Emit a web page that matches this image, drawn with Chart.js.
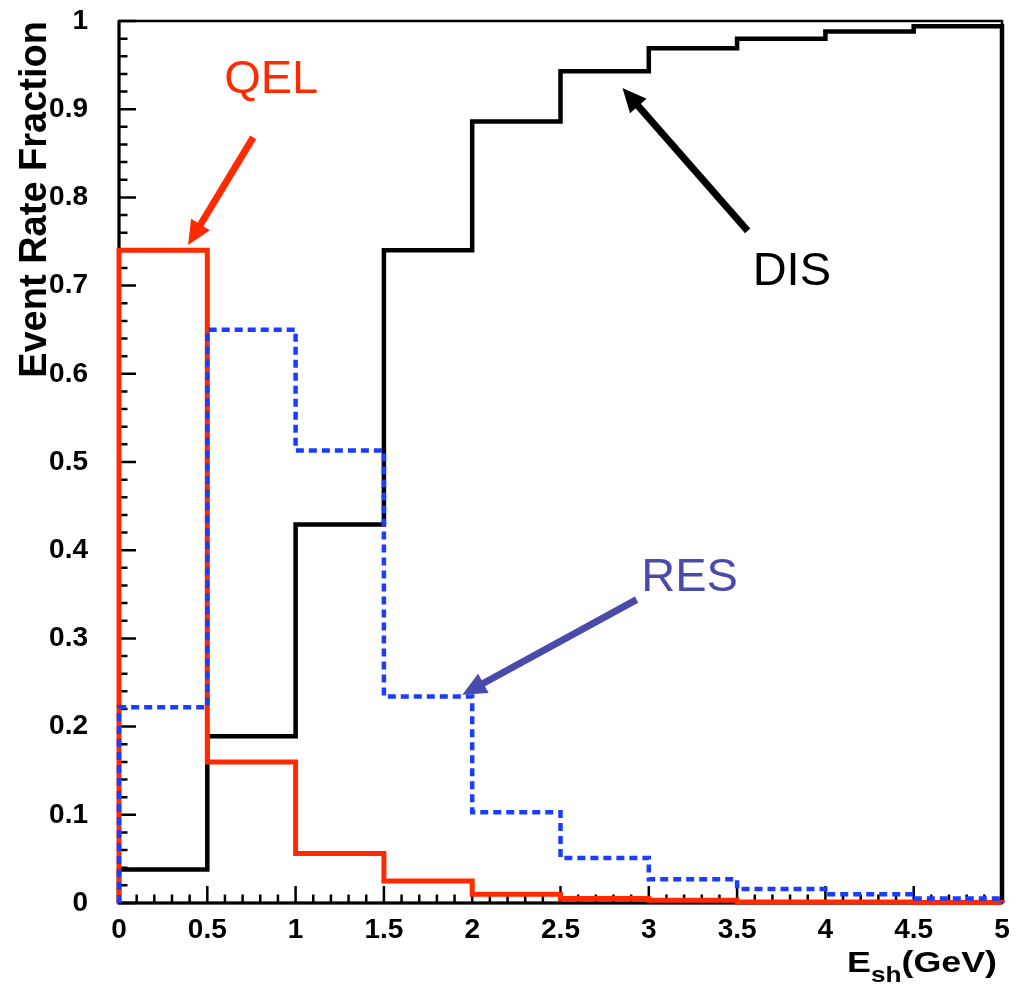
<!DOCTYPE html>
<html>
<head>
<meta charset="utf-8">
<script src="https://cdn.jsdelivr.net/npm/chart.js@4.4.1/dist/chart.umd.min.js"></script>
<style>
  html, body { margin: 0; padding: 0; background: #fff; }
  #wrap { width: 1019px; height: 986px; position: relative; }
</style>
</head>
<body>
<div id="wrap"><canvas id="chartFracciones"></canvas></div>
<script>
// bordes de los bins en E_sh (GeV)
const binEdges = [0, 0.5, 1, 1.5, 2, 2.5, 3, 3.5, 4, 4.5, 5];
// fracciones por bin
const disFrac = [0.038, 0.189, 0.429, 0.740, 0.886, 0.943, 0.969, 0.980, 0.988, 0.994];
const qelFrac = [0.740, 0.160, 0.056, 0.025, 0.010, 0.005, 0.003, 0.001, 0.001, 0.0005];
const resFrac = [0.222, 0.650, 0.513, 0.234, 0.103, 0.051, 0.027, 0.016, 0.010, 0.005];
const xTickValues = [0, 0.5, 1, 1.5, 2, 2.5, 3, 3.5, 4, 4.5, 5];
const yTickValues = [0, 0.1, 0.2, 0.3, 0.4, 0.5, 0.6, 0.7, 0.8, 0.9, 1];

const FONT = "'Liberation Sans', Arial, Helvetica, sans-serif";
const ROJO = '#ff2a00';
const AZUL = '#1a3dff';
const AZUL_FLECHA = '#4a4aaa';

// flechas y etiquetas (en unidades de datos)
const anotaciones = [
  { texto: 'QEL', color: ROJO, label: [0.862, 0.933], tail: [0.76, 0.868], tip: [0.391, 0.746] },
  { texto: 'DIS', color: '#000', label: [3.81, 0.715], tail: [3.56, 0.762], tip: [2.851, 0.924] },
  { texto: 'RES', color: AZUL_FLECHA, label: [3.231, 0.368], tail: [2.931, 0.344], tip: [1.944, 0.236] }
];

// histograma como escalones (stepped 'before': horizontal y luego vertical)
const histo = (vals) => {
  const pts = [{ x: binEdges[0], y: 0 }, { x: binEdges[0], y: vals[0] }];
  for (let i = 1; i < binEdges.length; i++) {
    pts.push({ x: binEdges[i], y: i < vals.length ? vals[i] : 0 });
  }
  return pts;
};

const dibujarFlecha = (ctx, x1, y1, x2, y2, color, w, largo, ancho) => {
  const ang = Math.atan2(y2 - y1, x2 - x1);
  const bx = x2 - largo * Math.cos(ang);
  const by = y2 - largo * Math.sin(ang);
  ctx.save();
  ctx.strokeStyle = color;
  ctx.fillStyle = color;
  ctx.lineWidth = w;
  ctx.beginPath();
  ctx.moveTo(x1, y1);
  ctx.lineTo(bx + 2 * Math.cos(ang), by + 2 * Math.sin(ang));
  ctx.stroke();
  ctx.beginPath();
  ctx.moveTo(x2, y2);
  ctx.lineTo(bx + (ancho / 2) * Math.sin(ang), by - (ancho / 2) * Math.cos(ang));
  ctx.lineTo(bx - (ancho / 2) * Math.sin(ang), by + (ancho / 2) * Math.cos(ang));
  ctx.closePath();
  ctx.fill();
  ctx.restore();
};

const marcoPlugin = {
  id: 'marco',
  beforeDatasetsDraw(chart) {
    const { ctx, chartArea: a, scales: { x, y } } = chart;
    ctx.save();
    ctx.strokeStyle = '#000';
    // marco
    ctx.lineWidth = 2.5;
    ctx.strokeRect(a.left, a.top, a.right - a.left, a.bottom - a.top);
    ctx.lineWidth = 3;
    ctx.beginPath();
    ctx.moveTo(a.left, a.top); ctx.lineTo(a.left, a.bottom); ctx.lineTo(a.right, a.bottom);
    ctx.stroke();
    // ticks menores y mayores hacia dentro
    ctx.lineWidth = 2.5;
    ctx.beginPath();
    for (let i = 0; i <= 50; i++) {
      const py = y.getPixelForValue(i * 0.02);
      const l = i % 5 === 0 ? 17 : 8.5;
      ctx.moveTo(a.left, py); ctx.lineTo(a.left + l, py);
    }
    for (let i = 0; i <= 50; i++) {
      const px = x.getPixelForValue(i * 0.1);
      const l = i % 5 === 0 ? 17 : 8.5;
      ctx.moveTo(px, a.bottom); ctx.lineTo(px, a.bottom - l);
    }
    ctx.stroke();
    ctx.restore();
  },
  afterDraw(chart) {
    const { ctx, chartArea: a, scales: { x, y } } = chart;
    ctx.save();
    anotaciones.forEach(an => {
      dibujarFlecha(ctx,
        x.getPixelForValue(an.tail[0]), y.getPixelForValue(an.tail[1]),
        x.getPixelForValue(an.tip[0]), y.getPixelForValue(an.tip[1]),
        an.color, 7, 24, 22);
      ctx.fillStyle = an.color;
      ctx.font = `47px ${FONT}`;
      ctx.textAlign = 'center';
      ctx.textBaseline = 'middle';
      ctx.fillText(an.texto, x.getPixelForValue(an.label[0]), y.getPixelForValue(an.label[1]));
    });

    // titulo eje y
    ctx.fillStyle = '#000';
    ctx.save();
    ctx.translate(46, a.top);
    ctx.rotate(-Math.PI / 2);
    ctx.font = `bold 38px ${FONT}`;
    ctx.textAlign = 'right';
    ctx.textBaseline = 'alphabetic';
    ctx.fillText('Event Rate Fraction', 0, 0);
    ctx.restore();

    // titulo eje x: E_sh(GeV), algo ensanchado como en el original
    ctx.textBaseline = 'alphabetic';
    ctx.textAlign = 'left';
    const fBig = `bold 30px ${FONT}`;
    const fSub = `bold 22px ${FONT}`;
    ctx.font = fBig;
    const wE = ctx.measureText('E').width;
    const wG = ctx.measureText('(GeV)').width;
    ctx.font = fSub;
    const wS = ctx.measureText('sh').width;
    const escala = 150 / (wE + wS + wG);
    ctx.save();
    ctx.translate(997 - 150, 0);
    ctx.scale(escala, 1);
    let px = 0;
    const base = 972;
    ctx.font = fBig; ctx.fillText('E', px, base); px += wE;
    ctx.font = fSub; ctx.fillText('sh', px, base + 10); px += wS;
    ctx.font = fBig; ctx.fillText('(GeV)', px, base);
    ctx.restore();
    ctx.restore();
  }
};

const fmt = v => String(+Number(v).toFixed(2));

const ctx = document.getElementById('chartFracciones').getContext('2d');
window.grafico = new Chart(ctx, {
  type: 'line',
  data: {
    datasets: [
      { label: 'RES', data: histo(resFrac), borderColor: AZUL, borderWidth: 4.5, borderDash: [8, 5], stepped: 'before', pointRadius: 0, clip: 6 },
      { label: 'QEL', data: histo(qelFrac), borderColor: ROJO, borderWidth: 5, stepped: 'before', pointRadius: 0, clip: 6 },
      { label: 'DIS', data: histo(disFrac), borderColor: '#000', borderWidth: 4.5, stepped: 'before', pointRadius: 0, clip: 6 }
    ]
  },
  options: {
    responsive: true,
    maintainAspectRatio: false,
    animation: false,
    layout: { padding: { top: 21, right: 17, left: 0, bottom: 0 } },
    plugins: { legend: { display: false }, tooltip: { enabled: false } },
    scales: {
      x: {
        type: 'linear', min: 0, max: 5,
        afterFit: s => { s.height = 83; s.paddingLeft = 0; s.paddingRight = 0; },
        afterBuildTicks: s => { s.ticks = xTickValues.map(v => ({ value: v })); },
        grid: { display: false }, border: { display: false },
        ticks: { color: '#000', padding: 2, maxRotation: 0, autoSkip: false, font: { family: FONT, size: 28, weight: 'bold' }, callback: fmt }
      },
      y: {
        type: 'linear', min: 0, max: 1,
        afterFit: s => { s.width = 119; s.paddingTop = 0; s.paddingBottom = 0; },
        afterBuildTicks: s => { s.ticks = yTickValues.map(v => ({ value: v })); },
        grid: { display: false }, border: { display: false },
        ticks: { color: '#000', padding: 23, autoSkip: false, font: { family: FONT, size: 28, weight: 'bold' }, callback: fmt }
      }
    }
  },
  plugins: [marcoPlugin]
});
</script>
</body>
</html>
